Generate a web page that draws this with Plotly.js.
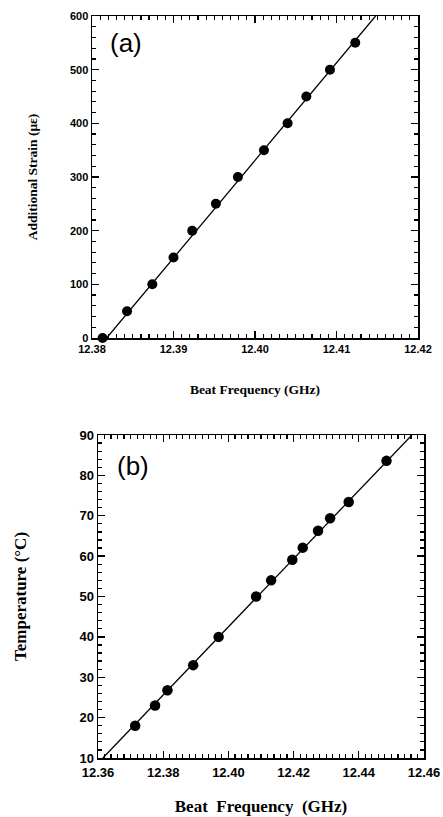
<!DOCTYPE html>
<html>
<head>
<meta charset="utf-8">
<script src="https://cdn.plot.ly/plotly-3.0.1.min.js"></script>
<style>html,body{margin:0;padding:0;background:#fff;}#chart{width:443px;height:817px;}</style>
</head>
<body>
<div id="chart"></div>
<script>
// Panel (a): strain vs beat frequency
const freqA = [12.3813, 12.3843, 12.3874, 12.3900, 12.3923, 12.3952, 12.3979, 12.4011, 12.4040, 12.4063, 12.4092, 12.4123];
const strainA = [0, 50, 100, 150, 200, 250, 300, 350, 400, 450, 500, 550];
const fitFreqA = [12.3818, 12.4148];
const fitStrainA = [0, 600];

// Panel (b): temperature vs beat frequency
const freqB = [12.3714, 12.3775, 12.3813, 12.3892, 12.3970, 12.4085, 12.4131, 12.4196, 12.4228, 12.4275, 12.4312, 12.4369, 12.4485];
const tempB = [18, 23, 26.8, 33, 40, 50, 54, 59.1, 62.1, 66.3, 69.4, 73.4, 83.6];
const fitFreqB = [12.3615, 12.4563];
const fitTempB = [10, 90];

const W = 443, H = 817;
const tickA = {family: 'Liberation Sans, Arial, sans-serif', size: 11, color: '#000', weight: 'bold'};
const tickB = {family: 'Liberation Sans, Arial, sans-serif', size: 13, color: '#000', weight: 'bold'};
const titleFontA = {family: 'Liberation Serif, Times New Roman, serif', size: 13.5, color: '#000', weight: 'bold'};
const titleFontB = {family: 'Liberation Serif, Times New Roman, serif', size: 17, color: '#000', weight: 'bold'};

function axisBase(extra) {
  return Object.assign({
    showline: true, linecolor: '#000', linewidth: 1.5, mirror: 'allticks',
    ticks: 'inside', ticklen: 7, tickwidth: 1.4, tickcolor: '#000',
    showgrid: false, zeroline: false, fixedrange: true
  }, extra);
}
function minorTicks(dtick, tick0) {
  return {dtick: dtick, tick0: tick0, ticks: 'inside', ticklen: 4, tickwidth: 1.2, tickcolor: '#000', showgrid: false};
}

const traces = [
  {x: fitFreqA, y: fitStrainA, xaxis: 'x', yaxis: 'y', mode: 'lines',
   line: {color: '#000', width: 1.3}, hoverinfo: 'skip', showlegend: false},
  {x: freqA, y: strainA, xaxis: 'x', yaxis: 'y', mode: 'markers',
   marker: {color: '#000', size: 10}, showlegend: false, cliponaxis: false},
  {x: fitFreqB, y: fitTempB, xaxis: 'x2', yaxis: 'y2', mode: 'lines',
   line: {color: '#000', width: 1.3}, hoverinfo: 'skip', showlegend: false},
  {x: freqB, y: tempB, xaxis: 'x2', yaxis: 'y2', mode: 'markers',
   marker: {color: '#000', size: 10.5}, showlegend: false, cliponaxis: false}
];

const layout = {
  width: W, height: H,
  margin: {l: 0, r: 0, t: 0, b: 0},
  paper_bgcolor: '#fff', plot_bgcolor: '#fff',
  showlegend: false,
  xaxis: axisBase({
    domain: [92 / W, 418 / W], anchor: 'y', range: [12.38, 12.42],
    tickmode: 'linear', tick0: 12.38, dtick: 0.01, tickformat: '.2f',
    tickfont: tickA,
    minor: minorTicks(0.001, 12.38),
    title: {text: 'Beat Frequency (GHz)', font: titleFontA, standoff: 31}
  }),
  yaxis: axisBase({
    domain: [(H - 338) / H, (H - 16) / H], anchor: 'x', range: [0, 600],
    tickmode: 'linear', dtick: 100, tick0: 0, tickfont: tickA,
    minor: minorTicks(20, 0),
    title: {text: 'Additional Strain (\u03bc\u03b5)', font: titleFontA, standoff: 29}
  }),
  xaxis2: axisBase({
    domain: [98 / W, 424 / W], anchor: 'y2', range: [12.36, 12.46],
    tickmode: 'linear', tick0: 12.36, dtick: 0.02, tickformat: '.2f',
    tickfont: tickB, ticklabelstandoff: 2,
    minor: minorTicks(0.002, 12.36),
    title: {text: 'Beat&nbsp;&nbsp;Frequency&nbsp;&nbsp;(GHz)', font: titleFontB, standoff: 21}
  }),
  yaxis2: axisBase({
    domain: [(H - 758) / H, (H - 435) / H], anchor: 'x2', range: [10, 90],
    tickmode: 'linear', dtick: 10, tick0: 10, tickfont: tickB,
    minor: minorTicks(2, 10),
    title: {text: 'Temperature (\u00b0C)', font: titleFontB, standoff: 48}
  }),
  annotations: [
    {text: '(a)', xref: 'x domain', yref: 'y domain', x: 0.105, y: 0.915, xanchor: 'center', yanchor: 'middle',
     showarrow: false, font: {family: 'Liberation Sans, Arial, sans-serif', size: 26, color: '#000'}},
    {text: '(b)', xref: 'x2 domain', yref: 'y2 domain', x: 0.107, y: 0.905, xanchor: 'center', yanchor: 'middle',
     showarrow: false, font: {family: 'Liberation Sans, Arial, sans-serif', size: 26, color: '#000'}}
  ]
};

Plotly.newPlot('chart', traces, layout, {displayModeBar: false, staticPlot: true});
</script>
</body>
</html>
